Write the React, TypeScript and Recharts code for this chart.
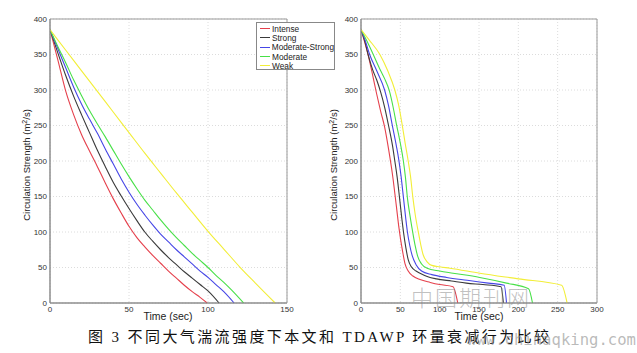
import React from 'react';
import { LineChart, Line, XAxis, YAxis, CartesianGrid, ReferenceArea } from 'recharts';

type Pt = [number, number];

// 左图：本文模型（时间 s, 环量 m^2/s）
const leftIntense: Pt[] = [[0, 385], [5, 342], [10, 298], [15, 265], [20, 237], [25, 214], [30, 192], [35, 169], [40, 147], [45, 127], [50, 108], [55, 92], [60, 79], [65, 67], [70, 56], [75, 45], [80, 35], [85, 25], [90, 16], [95, 8], [99.5, 0]];
const leftStrong: Pt[] = [[0, 385], [5, 352], [10, 320], [15, 291], [20, 265], [25, 240], [30, 215], [35, 192], [40, 170], [45, 151], [50, 133], [55, 116], [60, 100], [65, 87], [70, 75], [75, 64], [80, 54], [85, 44], [90, 35], [95, 26], [100, 17], [107, 0]];
const leftModStrong: Pt[] = [[0, 385], [5, 358], [10, 331], [15, 304], [20, 280], [25, 259], [30, 239], [35, 217], [40, 196], [45, 175], [50, 156], [55, 139], [60, 124], [65, 110], [70, 97], [75, 86], [80, 75], [85, 65], [90, 55], [95, 45], [100, 36], [105, 26], [110, 16], [116.5, 0]];
const leftModerate: Pt[] = [[0, 385], [5, 361], [10, 338], [15, 314], [20, 292], [25, 271], [30, 252], [35, 234], [40, 215], [45, 196], [50, 178], [55, 161], [60, 145], [65, 131], [70, 117], [75, 104], [80, 92], [85, 81], [90, 70], [95, 60], [100, 50], [105, 39], [110, 29], [115, 18], [122.5, 0]];
const leftWeak: Pt[] = [[0, 385], [10, 356], [20, 327], [30, 298], [40, 269], [50, 240], [60, 211], [70, 183], [80, 155], [90, 128], [100, 101], [110, 76], [120, 51], [130, 28], [142.5, 0]];

// 右图：TDAWP
const rightIntense: Pt[] = [[0, 385], [5, 366], [10, 345], [15, 320], [20, 294], [25, 270], [30, 248], [35, 217], [40, 181], [45, 136], [48, 108], [50, 92], [53, 72], [56, 55], [60, 45], [66, 38], [75, 33], [88, 29], [100, 26], [117, 23], [123, 0]];
const rightStrong: Pt[] = [[0, 385], [5, 368], [10, 346], [15, 328], [20, 314], [25, 297], [30, 276], [35, 250], [40, 222], [43, 200], [46, 177], [49, 148], [52, 118], [54, 100], [57, 78], [60, 61], [64, 51], [70, 45], [75, 42], [85, 37], [96, 34], [115, 31], [134, 28], [155, 26], [178, 23], [181, 0]];
const rightModStrong: Pt[] = [[0, 385], [5, 371], [11, 350], [20, 327], [30, 300], [35, 278], [40, 249], [45, 221], [48, 202], [51, 178], [54, 148], [57, 118], [59, 100], [62, 81], [65, 67], [70, 54], [77, 45], [90, 40], [109, 36], [135, 32], [162, 28], [182, 25], [185, 0]];
const rightModerate: Pt[] = [[0, 385], [8, 368], [16, 349], [25, 327], [30, 316], [36, 299], [41, 275], [45, 252], [50, 225], [54, 199], [56.5, 177], [59, 148], [62, 125], [66, 98], [69, 80], [72, 66], [77, 55], [84, 49], [100, 45], [117, 42], [151, 36], [185, 28], [213, 20], [218, 0]];
const rightWeak: Pt[] = [[0, 385], [10, 371], [24, 350], [34, 327], [43, 300], [48, 278], [52.5, 250], [56, 226], [60, 200], [63, 178], [66, 148], [69, 124], [73, 99], [76, 82], [79, 68], [84, 58], [90, 53], [100, 51], [113, 49], [151, 42], [200, 34], [255, 25], [262, 0]];

const seriesNames = ['Intense', 'Strong', 'Moderate-Strong', 'Moderate', 'Weak'];
const colors = ['#e5404c', '#3a3a3a', '#4646e6', '#48e048', '#f2ee38'];

const yTicks = [0, 50, 100, 150, 200, 250, 300, 350, 400];
const leftXTicks = [0, 50, 100, 150];
const rightXTicks = [0, 50, 100, 150, 200, 250, 300];

const caption = '图 3 不同大气湍流强度下本文和 TDAWP 环量衰减行为比较';

const FONT = '"Liberation Sans", Arial, sans-serif';

const toRows = (pts: Pt[]) => pts.map(([t, v]) => ({ t, v }));

function YLabel({ cx }: { cx: number }) {
  return (
    <text
      x={cx}
      y={165}
      transform={`rotate(-90 ${cx} 165)`}
      textAnchor="middle"
      fontSize={9.5}
      fontFamily={FONT}
      fill="#222"
    >
      Circulation Strength (m<tspan dy={-3} fontSize={7}>2</tspan>
      <tspan dy={3} fontSize={9.5}>/s)</tspan>
    </text>
  );
}

function XLabel({ cx }: { cx: number }) {
  return (
    <text x={cx} y={320} textAnchor="middle" fontSize={10.5} fontFamily={FONT} fill="#222">
      Time (sec)
    </text>
  );
}

function Panel({
  series,
  xMax,
  xTicks,
  width,
  yAxisWidth,
  yLabelX,
  xLabelX,
}: {
  series: Pt[][];
  xMax: number;
  xTicks: number[];
  width: number;
  yAxisWidth: number;
  yLabelX: number;
  xLabelX: number;
}) {
  return (
    <LineChart width={width} height={330} margin={{ top: 19, right: 13, left: 0, bottom: 2 }}>
      <CartesianGrid stroke="#dcdcdc" strokeDasharray="1 2" />
      <XAxis
        type="number"
        dataKey="t"
        domain={[0, xMax]}
        ticks={xTicks}
        allowDataOverflow
        height={25}
        tickSize={0}
        tickMargin={3}
        tickLine={false}
        axisLine={{ stroke: '#888' }}
        tick={{ fontSize: 8, fill: '#333', fontFamily: FONT }}
        label={<XLabel cx={xLabelX} />}
      />
      <YAxis
        type="number"
        dataKey="v"
        domain={[0, 400]}
        ticks={yTicks}
        width={yAxisWidth}
        tickSize={0}
        tickMargin={3}
        tickLine={false}
        axisLine={{ stroke: '#888' }}
        tick={{ fontSize: 8, fill: '#333', fontFamily: FONT }}
        label={<YLabel cx={yLabelX} />}
      />
      <ReferenceArea x1={0} x2={xMax} y1={0} y2={400} fill="none" stroke="#999" strokeWidth={1} />
      {series.map((pts, i) => (
        <Line
          key={seriesNames[i]}
          data={toRows(pts)}
          dataKey="v"
          name={seriesNames[i]}
          type="monotone"
          stroke={colors[i]}
          strokeWidth={1.1}
          dot={false}
          isAnimationActive={false}
        />
      ))}
    </LineChart>
  );
}

export default function App() {
  return (
    <div style={{ position: 'absolute', left: 0, top: 0, width: 637, height: 353, background: '#fff', overflow: 'hidden' }}>
      <div style={{ position: 'absolute', left: 0, top: 0 }}>
        <Panel
          series={[leftIntense, leftStrong, leftModStrong, leftModerate, leftWeak]}
          xMax={150}
          xTicks={leftXTicks}
          width={300}
          yAxisWidth={50}
          yLabelX={30}
          xLabelX={168}
        />
      </div>
      <div style={{ position: 'absolute', left: 300, top: 0 }}>
        <Panel
          series={[rightIntense, rightStrong, rightModStrong, rightModerate, rightWeak]}
          xMax={300}
          xTicks={rightXTicks}
          width={310}
          yAxisWidth={61}
          yLabelX={37}
          xLabelX={179}
        />
      </div>

      {/* 图例 */}
      <div
        style={{
          position: 'absolute',
          left: 256,
          top: 22,
          width: 79,
          height: 48,
          border: '1px solid #888',
          background: '#fff',
          fontFamily: FONT,
          fontSize: 8.3,
          color: '#222',
          paddingTop: 1,
          boxSizing: 'border-box',
        }}
      >
        {seriesNames.map((name, i) => (
          <div key={name} style={{ display: 'flex', alignItems: 'center', height: 9.3, whiteSpace: 'nowrap' }}>
            <span style={{ display: 'inline-block', width: 10, height: 1, background: colors[i], marginLeft: 3, marginRight: 2 }} />
            {name}
          </div>
        ))}
      </div>

      {/* 水印 */}
      <div
        style={{
          position: 'absolute',
          left: 411,
          top: 280,
          fontSize: 22,
          letterSpacing: 2,
          fontFamily: '"Noto Sans CJK SC", sans-serif',
          fontWeight: 300,
          color: 'rgba(140,140,140,0.55)',
          whiteSpace: 'nowrap',
        }}
      >
        中国期刊网
      </div>

      <div
        style={{
          position: 'absolute',
          left: 88,
          top: 328,
          fontSize: 15,
          lineHeight: '19px',
          letterSpacing: 2.4,
          fontFamily: '"Liberation Serif", "Noto Sans CJK SC", serif',
          color: '#111',
          whiteSpace: 'nowrap',
        }}
      >
        {caption}
      </div>

      <div
        style={{
          position: 'absolute',
          left: 467,
          top: 330,
          fontSize: 15.6,
          lineHeight: '20px',
          fontFamily: '"DejaVu Sans Mono", "Liberation Mono", monospace',
          color: 'rgba(140,140,140,0.6)',
          whiteSpace: 'nowrap',
        }}
      >
        www.chinaqking.com
      </div>
    </div>
  );
}
